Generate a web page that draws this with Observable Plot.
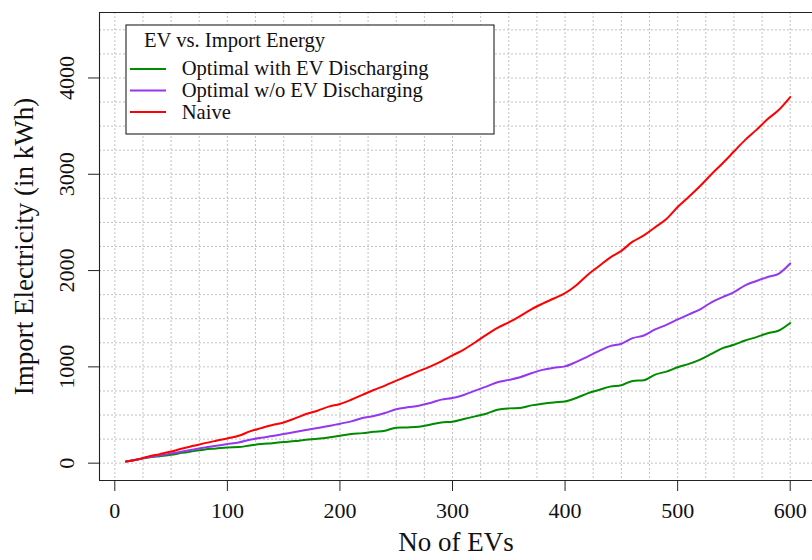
<!DOCTYPE html>
<html><head><meta charset="utf-8">
<script src="https://cdn.jsdelivr.net/npm/d3@7"></script>
<script src="https://cdn.jsdelivr.net/npm/@observablehq/plot@0.6"></script>
<style>html,body{margin:0;padding:0;background:#fff;overflow:hidden}</style>
</head><body><div id="chart"></div>
<script>
// ---- data ----
const evs = [10,20,30,40,50,60,70,80,90,100,110,120,130,140,150,160,170,180,190,200,
  210,220,230,240,250,260,270,280,290,300,310,320,330,340,350,360,370,380,390,400,
  410,420,430,440,450,460,470,480,490,500,510,520,530,540,550,560,570,580,590,600];
const optimalWithDischarge = [17,38,59,73,87,108,125,142,152,163,167,184,198,208,219,229,243,253,267,285,
  302,312,326,337,368,371,378,399,423,430,458,486,514,555,569,573,600,618,631,640,
  677,725,760,795,809,854,861,920,951,996,1031,1076,1135,1194,1229,1274,1309,1350,1378,1455];
const optimalNoDischarge = [17,38,63,80,100,121,142,163,180,198,215,243,264,281,302,323,344,365,385,410,
  434,469,490,521,559,580,597,625,660,677,708,753,795,840,865,892,934,969,990,1005,
  1052,1107,1163,1215,1240,1298,1326,1389,1437,1493,1545,1597,1670,1725,1777,1847,1892,1933,1969,2073];
const naive = [17,38,69,94,121,152,180,208,233,257,284,330,364,396,423,465,510,545,587,615,
  659,709,760,805,857,905,955,1003,1058,1119,1180,1253,1333,1406,1462,1527,1597,1656,1710,1765,
  1847,1955,2045,2135,2205,2300,2365,2450,2535,2660,2767,2878,3000,3115,3236,3357,3461,3573,3670,3802];
const seriesNames = ["Optimal with EV Discharging", "Optimal w/o EV Discharging", "Naive"];
const seriesColors = ["#008B00", "#9338EE", "#FF0000"];
const xTicks = [0,100,200,300,400,500,600];
const yTicks = [0,1000,2000,3000,4000];
const legendTitle = "EV vs. Import Energy";
const xLabel = "No of EVs";
const yLabel = "Import Electricity (in kWh)";

// ---- layout ----
const FONT = '"Liberation Serif","Times New Roman","DejaVu Serif",serif';
const xDomain = [-13.6, 619.8];
const yDomain = [-180, 4680];
const gridX = d3.range(0, 601, 25);
const gridY = d3.range(0, 4501, 250);

const seriesValues = [optimalWithDischarge, optimalNoDischarge, naive];
const rows = [];
seriesNames.forEach((name, i) => evs.forEach((ev, j) => rows.push({ev, kwh: seriesValues[i][j], series: name})));

const gridStyle = {stroke: "#c2c2c2", strokeWidth: 1, strokeDasharray: "2,2"};

const plot = Plot.plot({
  width: 812, height: 560,
  marginLeft: 99, marginRight: 0, marginTop: 12, marginBottom: 80,
  style: {fontFamily: FONT, background: "#fff", color: "#111", overflow: "hidden"},
  x: {domain: xDomain},
  y: {domain: yDomain},
  color: {domain: seriesNames, range: seriesColors},
  marks: [
    Plot.ruleX(gridX, gridStyle),
    Plot.ruleY(gridY, gridStyle),
    Plot.line(rows, {x: "ev", y: "kwh", z: "series", stroke: "series", strokeWidth: 2, curve: "monotone-x"}),
    Plot.ruleX([xDomain[0]], {stroke: "#222", strokeWidth: 1.1}),
    Plot.ruleY(yDomain, {stroke: "#222", strokeWidth: 1.1}),
    Plot.axisX({ticks: xTicks, tickSize: 11, tickPadding: 11, fontSize: 22, label: null, stroke: "#222"}),
    Plot.axisY({ticks: yTicks, tickSize: 11, label: null, tickFormat: () => "", stroke: "#222"}),
    Plot.text(yTicks, {y: d => d, text: d => String(d), frameAnchor: "left", textAnchor: "middle", dx: -33, rotate: -90, fontSize: 22, fill: "#111"}),
    Plot.text([xLabel], {frameAnchor: "bottom", textAnchor: "middle", dy: 70, fontSize: 27, fill: "#111"}),
    Plot.text([yLabel], {frameAnchor: "left", textAnchor: "middle", dx: -75, rotate: -90, fontSize: 27, fill: "#111"})
  ]
});

// ---- legend box (drawn on top, R-style) ----
const svg = d3.select(plot);
const lg = svg.append("g").attr("font-family", FONT).attr("fill", "#111").attr("text-anchor", "start");
lg.append("rect").attr("x", 126).attr("y", 25).attr("width", 368).attr("height", 109)
  .attr("fill", "#fff").attr("stroke", "#222").attr("stroke-width", 1.1);
lg.append("text").attr("x", 144).attr("y", 46.5).attr("font-size", 20.6).attr("text-anchor", "start").text(legendTitle);
const ly = [69, 90.5, 112];
const lb = [75, 97, 119];
seriesNames.forEach((name, i) => {
  lg.append("line").attr("x1", 130).attr("x2", 166).attr("y1", ly[i]).attr("y2", ly[i])
    .attr("stroke", seriesColors[i]).attr("stroke-width", 2);
  lg.append("text").attr("x", 181.7).attr("y", lb[i]).attr("font-size", 20.6).attr("text-anchor", "start").text(name);
});

document.getElementById("chart").appendChild(plot);
</script>
</body></html>
